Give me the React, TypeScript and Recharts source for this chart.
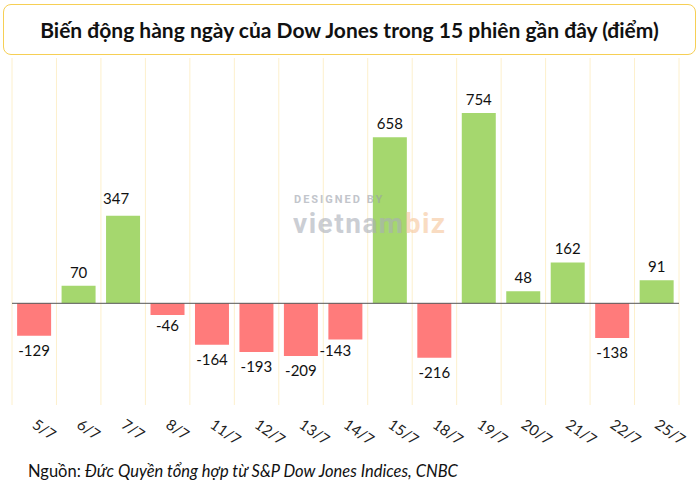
import React from 'react';
import { BarChart, Bar, XAxis, YAxis, CartesianGrid, ReferenceLine, LabelList, Cell } from 'recharts';

const categories = ['5/7', '6/7', '7/7', '8/7', '11/7', '12/7', '13/7', '14/7', '15/7', '18/7', '19/7', '20/7', '21/7', '22/7', '25/7'];
const changes = [-129, 70, 347, -46, -164, -193, -209, -143, 658, -216, 754, 48, 162, -138, 91];

const data = categories.map((c, i) => ({ day: c, value: changes[i] }));

const GREEN = '#a5d76e';
const RED = '#ff7b7b';
const FONT = 'Lato, "Open Sans", sans-serif';

const labelNudge: Record<number, [number, number]> = { 2: [-7, -4], 3: [0, -4], 7: [-10, -3] };

const ValueLabel = (props: any) => {
  const { x, y, width, height, value, index } = props;
  const top = Math.min(y, y + height);
  const bottom = Math.max(y, y + height);
  const cx = x + width / 2;
  const [dx, dy] = labelNudge[index] || [0, 0];
  const ty = value >= 0 ? top - 8 : bottom + 20;
  return (
    <text x={cx + dx} y={ty + dy} textAnchor="middle" fontFamily={FONT} fontSize={15} fill="#111">
      {value}
    </text>
  );
};

const Tick = (props: any) => {
  const { x, y, payload } = props;
  const ax = x - 3;
  const ay = y + 14;
  return (
    <text x={ax} y={ay} transform={`rotate(35, ${ax}, ${ay})`} textAnchor="start" fontFamily={FONT} fontSize={15} fill="#222">
      {payload.value}
    </text>
  );
};

export default function App() {
  return (
    <div style={{ position: 'absolute', left: 0, top: 0, width: 700, height: 490, background: '#fff', fontFamily: FONT }}>
      <BarChart width={700} height={490} data={data} margin={{ top: 58, left: 12, right: 21, bottom: 25 }} barCategoryGap="11.5%">
        <CartesianGrid
          horizontal={false}
          stroke="#fdf0cc"
          strokeWidth={1}
          verticalCoordinatesGenerator={({ offset }: any) => {
            const arr: number[] = [];
            for (let i = 0; i <= categories.length; i++) arr.push(offset.left + (i * offset.width) / categories.length);
            return arr;
          }}
        />
        <XAxis dataKey="day" axisLine={false} tickLine={false} height={60} interval={0} tick={<Tick />} />
        <YAxis hide domain={[-403, 972]} />
        <ReferenceLine y={0} stroke="#555" strokeWidth={1} />
        <Bar dataKey="value" isAnimationActive={false}>
          {data.map((d, i) => (
            <Cell key={i} fill={d.value >= 0 ? GREEN : RED} />
          ))}
          <LabelList dataKey="value" content={<ValueLabel />} />
        </Bar>
      </BarChart>
      <div style={{ position: 'absolute', left: 3, top: 4, width: 691, height: 49, border: '1.5px solid #f6cf55', borderRadius: 8, background: '#fff', display: 'flex', alignItems: 'center', justifyContent: 'center' }}>
        <span style={{ fontFamily: FONT, fontWeight: 700, fontSize: 21, color: '#111' }}>Biến động hàng ngày của Dow Jones trong 15 phiên gần đây (điểm)</span>
      </div>
      <svg width={700} height={490} style={{ position: 'absolute', left: 0, top: 0, pointerEvents: 'none' }}>
        <g opacity={0.6}>
          <text x={294} y={203} fontFamily="Roboto, sans-serif" fontWeight={700} fontSize={11} letterSpacing={2} fill="#9aa0aa">DESIGNED BY</text>
          <text x={293} y={233} fontFamily="Roboto, sans-serif" fontWeight={700} fontSize={28} letterSpacing={1.5} fill="#a9aeb8">
            vietnam<tspan fill="#f6c59a">biz</tspan>
          </text>
        </g>
      </svg>
      <div style={{ position: 'absolute', left: 28, top: 461, fontFamily: FONT, fontSize: 16.5, color: '#111', whiteSpace: 'nowrap' }}>
        Nguồn: <i>Đức Quyền tổng hợp từ S&amp;P Dow Jones Indices, CNBC</i>
      </div>
    </div>
  );
}
